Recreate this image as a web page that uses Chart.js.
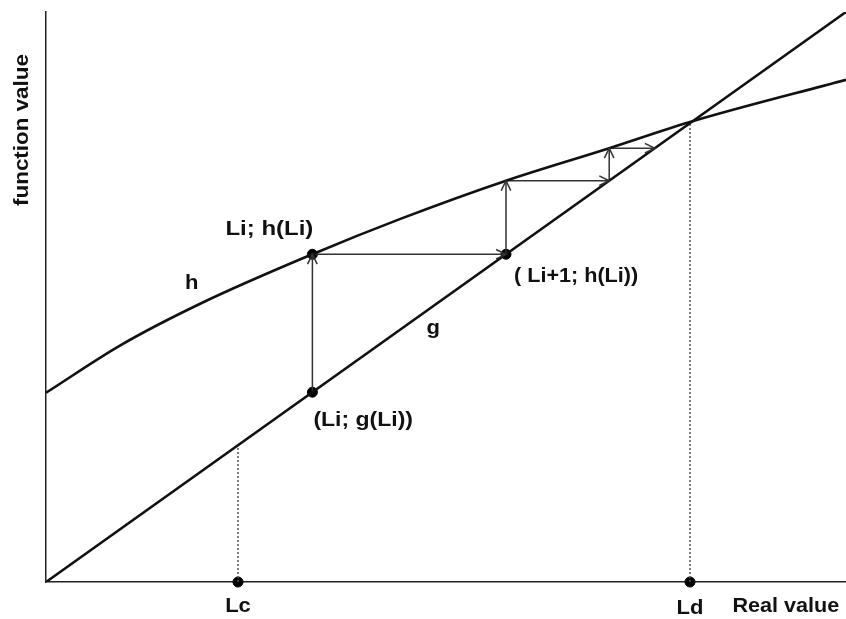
<!DOCTYPE html>
<html>
<head>
<meta charset="utf-8">
<title>Fixed-point iteration between h and g</title>
<script src="https://cdn.jsdelivr.net/npm/chart.js@4.4.1/dist/chart.umd.min.js"></script>
<style>
  html, body { margin: 0; padding: 0; background: #ffffff; }
  #wrap { width: 846px; height: 619px; }
</style>
</head>
<body>
<div id="wrap"><canvas id="c" width="846" height="619"></canvas></div>
<script>
// Curve h (concave) sampled along the real-value axis
const hX = [0, 0.94, 1.94, 3.33, 4.43, 5.75, 7.04, 8.05, 10];
const hY = [3.32, 4.16, 4.89, 5.75, 6.37, 7.04, 7.61, 8.07, 8.81];

// Line g (identity)
const gX = [0, 10];
const gY = [0, 10];

// Iteration: Li, then successive values obtained through h
const iterX = [3.33, 3.33, 5.75, 5.75, 7.04, 7.04, 7.61];
const iterY = [3.33, 5.75, 5.75, 7.04, 7.04, 7.61, 7.61];

// Marked points on the axis
const Lc = 2.40;
const Ld = 8.05;

// Highlighted points: (Li; h(Li)), (Li; g(Li)), (Li+1; h(Li)), Lc, Ld
const dotX = [3.33, 3.33, 5.75, Lc, Ld];
const dotY = [5.75, 3.33, 5.75, 0, 0];

const pairs = (xs, ys) => xs.map((x, i) => ({ x: x, y: ys[i] }));

const FONT = 'bold 20px "Liberation Sans", Arial, sans-serif';
const INK = '#111111';

// Arrowheads at the end of each iteration segment, plus all the text
const annotate = {
  id: 'annotate',
  afterDatasetsDraw(chart) {
    const ctx = chart.ctx;
    const xs = chart.scales.x, ys = chart.scales.y;
    const px = v => xs.getPixelForValue(v);
    const py = v => ys.getPixelForValue(v);

    // open arrowheads
    ctx.save();
    ctx.strokeStyle = '#333333';
    ctx.lineWidth = 1.5;
    for (let i = 1; i < iterX.length; i++) {
      const x0 = px(iterX[i - 1]), y0 = py(iterY[i - 1]);
      const x1 = px(iterX[i]), y1 = py(iterY[i]);
      const ang = Math.atan2(y1 - y0, x1 - x0);
      const len = 11, spread = 0.45;
      ctx.beginPath();
      ctx.moveTo(x1 - len * Math.cos(ang - spread), y1 - len * Math.sin(ang - spread));
      ctx.lineTo(x1, y1);
      ctx.lineTo(x1 - len * Math.cos(ang + spread), y1 - len * Math.sin(ang + spread));
      ctx.stroke();
    }
    ctx.restore();

    // labels
    const label = (text, x, y, align, sx) => {
      ctx.save();
      ctx.font = FONT;
      ctx.fillStyle = INK;
      ctx.textBaseline = 'middle';
      ctx.textAlign = align || 'left';
      ctx.translate(x, y);
      ctx.scale(sx || 1.1, 1);
      ctx.fillText(text, 0, 0);
      ctx.restore();
    };
    label('Li; h(Li)', px(3.33) - 87, py(5.75) - 25, 'left', 1.2);
    label('h', px(1.82), py(5.23), 'center');
    label('g', px(4.84), py(4.45), 'center');
    label('( Li+1; h(Li))', px(5.75) + 8, py(5.75) + 22, 'left', 1.08);
    label('(Li; g(Li))', px(3.33) + 1, py(3.33) + 28, 'left', 1.15);
    label('Lc', px(Lc), ys.bottom + 24, 'center');
    label('Ld', px(Ld), ys.bottom + 26, 'center');
    label('Real value', px(8.58), ys.bottom + 24, 'left', 1.08);

    ctx.save();
    ctx.font = FONT;
    ctx.fillStyle = INK;
    ctx.textAlign = 'center';
    ctx.textBaseline = 'middle';
    ctx.translate(22, 130);
    ctx.rotate(-Math.PI / 2);
    ctx.scale(1.12, 1);
    ctx.fillText('function value', 0, 0);
    ctx.restore();
  }
};

new Chart(document.getElementById('c'), {
  type: 'scatter',
  data: {
    datasets: [
      {
        label: 'h',
        data: pairs(hX, hY),
        showLine: true,
        borderColor: '#111111',
        borderWidth: 2.6,
        pointRadius: 0,
        cubicInterpolationMode: 'monotone'
      },
      {
        label: 'g',
        data: pairs(gX, gY),
        showLine: true,
        borderColor: '#111111',
        borderWidth: 2.6,
        pointRadius: 0
      },
      {
        label: 'Lc',
        data: [{ x: Lc, y: 0 }, { x: Lc, y: Lc }],
        showLine: true,
        borderColor: '#555555',
        borderWidth: 1.5,
        borderDash: [2, 2],
        pointRadius: 0
      },
      {
        label: 'Ld',
        data: [{ x: Ld, y: 0 }, { x: Ld, y: Ld }],
        showLine: true,
        borderColor: '#555555',
        borderWidth: 1.5,
        borderDash: [2, 2],
        pointRadius: 0
      },
      {
        label: 'iteration',
        data: pairs(iterX, iterY),
        showLine: true,
        borderColor: '#333333',
        borderWidth: 1.5,
        pointRadius: 0,
        tension: 0
      },
      {
        label: 'points',
        data: pairs(dotX, dotY),
        showLine: false,
        pointRadius: 5,
        pointBackgroundColor: '#000000',
        pointBorderColor: '#000000',
        clip: false
      }
    ]
  },
  options: {
    responsive: false,
    animation: false,
    devicePixelRatio: 1,
    layout: { autoPadding: false, padding: { left: 38, right: 0, top: 12, bottom: 29 } },
    plugins: {
      legend: { display: false },
      tooltip: { enabled: false }
    },
    scales: {
      x: {
        type: 'linear',
        min: 0,
        max: 10,
        grid: { display: false },
        ticks: { display: false, padding: 0 },
        border: { display: true, color: '#222222', width: 1.5 }
      },
      y: {
        type: 'linear',
        min: 0,
        max: 10,
        grid: { display: false },
        ticks: { display: false, padding: 0 },
        border: { display: true, color: '#222222', width: 1.5 }
      }
    }
  },
  plugins: [annotate]
});
</script>
</body>
</html>
